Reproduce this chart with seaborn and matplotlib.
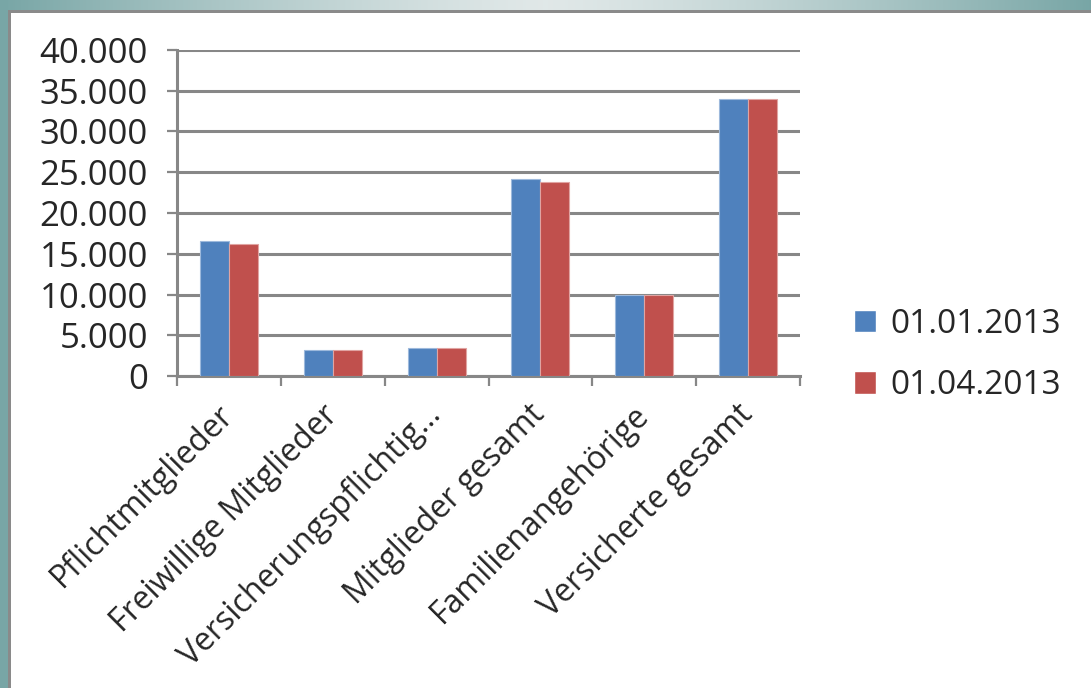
import numpy as np
import pandas as pd
import seaborn as sns
import matplotlib.pyplot as plt
from matplotlib.patches import Rectangle
from matplotlib.ticker import FixedLocator, FuncFormatter

# Daten
kategorien = ["Pflichtmitglieder", "Freiwillige Mitglieder", "Versicherungspflichtig\u2026",
              "Mitglieder gesamt", "Familienangehörige", "Versicherte gesamt"]
stichtage = ["01.01.2013", "01.04.2013"]
werte_jan = [16550, 3150, 3450, 24150, 10000, 33950]
werte_apr = [16250, 3150, 3450, 23800, 10000, 33950]
farben = ["#4F81BD", "#C0504D"]
kanten = ["#9DB9DC", "#E0A4A2"]
y_ticks = [0, 5000, 10000, 15000, 20000, 25000, 30000, 35000, 40000]

df = pd.DataFrame({
    "Kategorie": kategorien * 2,
    "Stichtag": [stichtage[0]] * len(kategorien) + [stichtage[1]] * len(kategorien),
    "Anzahl": werte_jan + werte_apr,
})

sns.set_style("white")
plt.rcParams["font.family"] = ["Open Sans", "DejaVu Sans"]
grau = "#878787"

fig = plt.figure(figsize=(10.91, 6.88), dpi=100)

# Rahmen (Farbverlauf oben, Streifen links)
W, H = 1091, 688
teal = np.array([0.47, 0.65, 0.65])
hell = np.array([0.88, 0.91, 0.91])
t = np.linspace(0, 1, W)
mix = np.abs(2 * t - 1) ** 1.3
row = hell[None, :] * (1 - mix[:, None]) + teal[None, :] * mix[:, None]
strip = np.repeat(row[None, :, :], 10, axis=0)
fig.figimage(strip, xo=0, yo=H - 10, zorder=1)
fig.patches.append(Rectangle((0, 0), 8 / W, 1, transform=fig.transFigure,
                             facecolor=teal, edgecolor="none", zorder=2))
fig.patches.append(Rectangle((8 / W, 0), 2.5 / W, 1 - 10 / H, transform=fig.transFigure,
                             facecolor="#8a8a8a", edgecolor="none", zorder=2))
fig.patches.append(Rectangle((8 / W, 1 - 12.5 / H), 1 - 8 / W, 2.5 / H, transform=fig.transFigure,
                             facecolor="#8a8a8a", edgecolor="none", zorder=2))

ax = fig.add_axes([177 / W, 1 - 376 / H, 623 / W, 326 / H])
sns.barplot(data=df, x="Kategorie", y="Anzahl", hue="Stichtag", order=kategorien,
            hue_order=stichtage, palette=farben, width=0.56, gap=0, saturation=1,
            ax=ax, zorder=3)
for cont, ec in zip(ax.containers, kanten):
    for bar in cont:
        bar.set_edgecolor(ec)
        bar.set_linewidth(0.8)

ax.set_ylim(0, 40000)
ax.set_xlim(-0.5, len(kategorien) - 0.5)
ax.yaxis.set_major_locator(FixedLocator(y_ticks))
ax.yaxis.set_major_formatter(FuncFormatter(lambda v, p: f"{int(v):,}".replace(",", ".")))
ax.grid(axis="y", color=grau, linewidth=2.2, zorder=0)
ax.set_axisbelow(True)
for s in ["top", "right"]:
    ax.spines[s].set_visible(False)
for s in ["left", "bottom"]:
    ax.spines[s].set_color(grau)
    ax.spines[s].set_linewidth(2.2)

ax.tick_params(axis="y", left=True, length=7, width=1.6, color=grau, labelsize=25, pad=14)
ax.set_xticks(np.arange(-0.5, len(kategorien)), minor=True)
ax.tick_params(axis="x", which="minor", bottom=True, length=7, width=1.6, color=grau, direction="out")
ax.tick_params(axis="x", which="major", bottom=False, labelsize=23, pad=21)
plt.setp(ax.get_xticklabels(), rotation=45, ha="right", va="center", rotation_mode="anchor")
ax.set_xlabel("")
ax.set_ylabel("")

handles, labels = ax.get_legend_handles_labels()
ax.legend(handles, labels, loc="center left", bbox_to_anchor=(824 / W, 1 - 355 / H),
          bbox_transform=fig.transFigure, frameon=False, fontsize=24,
          handlelength=0.65, handleheight=0.65, handletextpad=0.45, labelspacing=0.85)

fig.savefig("out.png", dpi=100)
